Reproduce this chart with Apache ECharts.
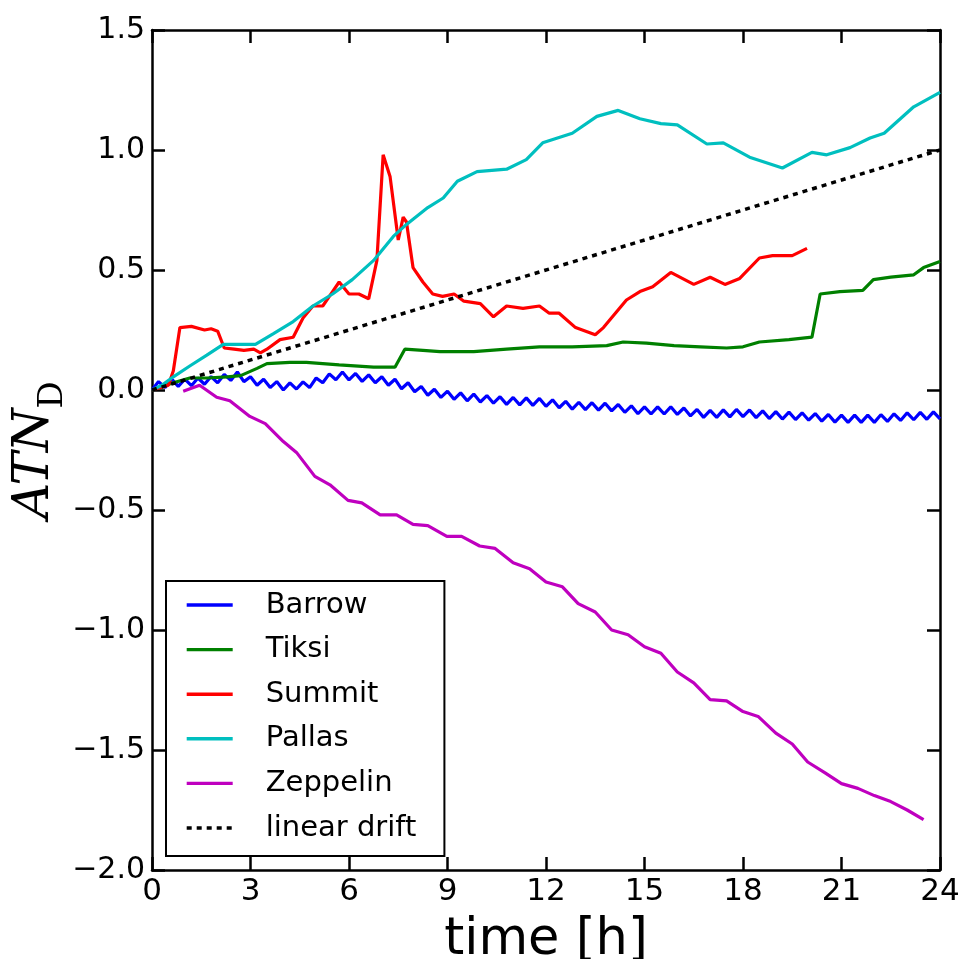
<!DOCTYPE html>
<html>
<head>
<meta charset="utf-8">
<script src="https://cdn.jsdelivr.net/npm/echarts@6/dist/echarts.min.js"></script>
<style>
html,body{margin:0;padding:0;background:#fff;}
#chart{width:963px;height:959px;}
</style>
</head>
<body>
<div id="chart"></div>
<script>
// ---- data (time [h], ATN_D) ----
const seriesNames = ['Barrow', 'Tiksi', 'Summit', 'Pallas', 'Zeppelin', 'linear drift'];
const xTicks = [0, 3, 6, 9, 12, 15, 18, 21, 24];
const yTicks = [-2.0, -1.5, -1.0, -0.5, 0.0, 0.5, 1.0, 1.5];

const barrow = [
[0,0],[0.2,0.035],[0.4,0.01],[0.6,0.045],[0.8,0.015],[1.0,0.045],[1.2,0.018],[1.4,0.05],[1.6,0.024],[1.8,0.056],
[2.0,0.03],[2.2,0.065],[2.4,0.04],[2.6,0.075],[2.8,0.035],[3.0,0.055],[3.2,0.02],[3.4,0.045],[3.6,0.01],[3.8,0.035],
[4.0,0.0],[4.2,0.03],[4.4,0.004],[4.6,0.034],[4.8,0.01],[5.0,0.05],[5.2,0.03],[5.4,0.067],[5.6,0.043],[5.8,0.075],
[6.0,0.042],[6.2,0.069],[6.4,0.036],[6.6,0.063],[6.8,0.03],[7.0,0.055],[7.2,0.02],[7.4,0.045],[7.6,0.005],[7.8,0.03],
[8.0,-0.007],[8.2,0.015],[8.4,-0.022],[8.6,0.003],[8.8,-0.031],[9.0,-0.005],[9.2,-0.039],[9.4,-0.012],[9.6,-0.045],[9.8,-0.017],
[10.0,-0.05],[10.2,-0.023],[10.4,-0.055],[10.6,-0.028],[10.8,-0.06],[11.0,-0.031],[11.2,-0.062],[11.4,-0.033],[11.6,-0.064],[11.8,-0.035],
[12.0,-0.068],[12.2,-0.041],[12.4,-0.074],[12.6,-0.047],[12.8,-0.08],[13.0,-0.051],[13.2,-0.082],[13.4,-0.053],[13.6,-0.084],[13.8,-0.055],
[14.0,-0.087],[14.2,-0.06],[14.4,-0.093],[14.6,-0.066],[14.8,-0.099],[15.0,-0.07],[15.2,-0.1],[15.4,-0.07],[15.6,-0.1],[15.8,-0.07],
[16.0,-0.102],[16.2,-0.075],[16.4,-0.108],[16.6,-0.081],[16.8,-0.114],[17.0,-0.085],[17.2,-0.114],[17.4,-0.083],[17.6,-0.112],[17.8,-0.081],
[18.0,-0.111],[18.2,-0.083],[18.4,-0.115],[18.6,-0.087],[18.8,-0.119],[19.0,-0.09],[19.2,-0.121],[19.4,-0.092],[19.6,-0.123],[19.8,-0.095],
[20.0,-0.126],[20.2,-0.098],[20.4,-0.13],[20.6,-0.102],[20.8,-0.134],[21.0,-0.105],[21.2,-0.135],[21.4,-0.105],[21.6,-0.135],[21.8,-0.105],
[22.0,-0.135],[22.2,-0.103],[22.4,-0.131],[22.6,-0.099],[22.8,-0.127],[23.0,-0.095],[23.2,-0.124],[23.4,-0.093],[23.6,-0.122],[23.8,-0.091],
[24.0,-0.12]
];

const tiksi = [
[0,0],[0.65,0.03],[1.15,0.05],[1.67,0.05],[2.3,0.055],[2.7,0.06],[3.2,0.09],[3.5,0.11],[4.2,0.115],[4.7,0.115],
[5.7,0.105],[6.75,0.095],[7.4,0.095],[7.7,0.17],[8.25,0.165],[8.77,0.16],[9.8,0.16],[10.8,0.17],[11.8,0.18],[12.8,0.18],
[13.85,0.185],[14.35,0.2],[15.06,0.195],[15.9,0.185],[16.7,0.18],[17.5,0.175],[18.0,0.18],[18.5,0.2],[19.4,0.21],[20.1,0.22],
[20.35,0.4],[20.95,0.41],[21.65,0.415],[21.97,0.46],[22.5,0.47],[23.2,0.48],[23.5,0.51],[24,0.535]
];

const summit = [
[0,0],[0.5,0.02],[0.65,0.08],[0.85,0.26],[1.2,0.265],[1.6,0.25],[1.8,0.255],[2.0,0.245],[2.2,0.175],[2.5,0.17],
[2.8,0.165],[3.1,0.17],[3.3,0.155],[3.5,0.17],[3.9,0.21],[4.3,0.22],[4.6,0.3],[4.9,0.35],[5.2,0.35],[5.5,0.41],
[5.7,0.45],[6.0,0.4],[6.3,0.4],[6.6,0.38],[6.85,0.54],[7.04,0.98],[7.25,0.89],[7.5,0.625],[7.65,0.72],[7.75,0.7],
[7.95,0.51],[8.25,0.45],[8.55,0.4],[8.85,0.39],[9.2,0.4],[9.5,0.37],[10.0,0.36],[10.4,0.305],[10.8,0.35],[11.3,0.34],
[11.8,0.35],[12.1,0.32],[12.4,0.32],[12.9,0.26],[13.5,0.23],[13.75,0.26],[14.45,0.375],[14.86,0.41],[15.25,0.43],[15.8,0.49],
[16.5,0.44],[17.0,0.47],[17.45,0.44],[17.9,0.465],[18.5,0.55],[18.9,0.56],[19.5,0.56],[19.95,0.59]
];

const pallas = [
[0,0],[0.3,0.02],[0.65,0.055],[1.15,0.1],[1.67,0.145],[2.17,0.19],[2.7,0.19],[3.15,0.19],[3.7,0.235],[4.3,0.285],
[4.9,0.35],[5.5,0.4],[6.1,0.46],[6.75,0.54],[7.35,0.64],[7.75,0.69],[8.4,0.76],[8.87,0.8],[9.3,0.87],[9.9,0.91],
[10.8,0.92],[11.4,0.96],[11.9,1.03],[12.8,1.07],[13.55,1.14],[14.2,1.165],[14.86,1.13],[15.5,1.11],[16.0,1.105],[16.9,1.025],
[17.4,1.03],[18.2,0.97],[19.2,0.925],[20.1,0.99],[20.55,0.98],[21.26,1.01],[21.87,1.05],[22.3,1.07],[23.2,1.18],[24,1.24]
];

const zeppelin = [
[0.95,-0.005],[1.45,0.02],[1.97,-0.03],[2.37,-0.045],[2.98,-0.11],[3.45,-0.14],[4.0,-0.215],[4.4,-0.26],[4.96,-0.36],[5.42,-0.395],
[5.97,-0.46],[6.39,-0.47],[6.95,-0.52],[7.45,-0.52],[7.95,-0.56],[8.4,-0.565],[8.98,-0.61],[9.43,-0.61],[9.98,-0.65],[10.45,-0.66],
[11.0,-0.72],[11.5,-0.745],[12.0,-0.8],[12.5,-0.82],[12.98,-0.89],[13.5,-0.925],[14.0,-1.0],[14.5,-1.02],[15.0,-1.07],[15.5,-1.097],
[16.0,-1.175],[16.5,-1.22],[17.0,-1.29],[17.5,-1.295],[18.0,-1.34],[18.46,-1.36],[19.0,-1.43],[19.5,-1.475],[19.97,-1.55],[20.5,-1.595],
[21.0,-1.64],[21.5,-1.66],[22.0,-1.69],[22.5,-1.715],[23.0,-1.75],[23.5,-1.79]
];

const drift = [[0,0],[24,1.0]];

const colors = ['#0000ff', '#008000', '#ff0000', '#00bfbf', '#bf00bf', '#000000'];

// ---- chart ----
const chart = echarts.init(document.getElementById('chart'), null, {renderer: 'canvas'});
const FONT = 'DejaVu Sans';
const fmtY = v => (v < 0 ? '\u2212' : '') + Math.abs(v).toFixed(1);

const frameLine = {show: true, onZero: false, lineStyle: {color: '#000', width: 2.5}};
const tickIn = {show: true, inside: true, length: 13, lineStyle: {color: '#000', width: 2.5}};

function lineSeries(name, data, color, extra) {
  return Object.assign({
    name: name, type: 'line', data: data, symbol: 'none', smooth: false,
    lineStyle: {color: color, width: 3.2}, itemStyle: {color: color},
    emphasis: {disabled: true}, animation: false
  }, extra || {});
}

chart.setOption({
  animation: false,
  backgroundColor: '#fff',
  grid: {left: 152, right: 23, top: 30, bottom: 89, containLabel: false, outerBoundsMode: 'none'},
  xAxis: [
    {type: 'value', position: 'bottom', min: 0, max: 24, interval: 3,
     axisLine: frameLine, axisTick: tickIn, splitLine: {show: false},
     axisLabel: {color: '#000', fontFamily: FONT, fontSize: 31, margin: 6},
     name: 'time [h]', nameLocation: 'middle', nameGap: 45, nameMoveOverlap: false,
     nameTextStyle: {color: '#000', fontFamily: FONT, fontSize: 51}},
    {type: 'value', position: 'top', min: 0, max: 24, interval: 3,
     axisLine: frameLine, axisTick: tickIn, splitLine: {show: false},
     axisLabel: {show: false}}
  ],
  yAxis: [
    {type: 'value', position: 'left', min: -2.0, max: 1.5, interval: 0.5,
     axisLine: frameLine, axisTick: tickIn, splitLine: {show: false},
     axisLabel: {color: '#000', fontFamily: FONT, fontSize: 30, margin: 7, formatter: fmtY},
     name: '{a|ATN}{b|D}', nameLocation: 'middle', nameGap: 82, nameRotate: 90, nameMoveOverlap: false,
     nameTextStyle: {
       lineHeight: 56,
       rich: {
         a: {fontFamily: 'DejaVu Serif', fontStyle: 'italic', fontSize: 50, lineHeight: 56, color: '#000', verticalAlign: 'bottom', padding: [0, 0, 10, 0]},
         b: {fontFamily: 'DejaVu Serif', fontSize: 34, lineHeight: 40, color: '#000', verticalAlign: 'bottom'}
       }
     }},
    {type: 'value', position: 'right', min: -2.0, max: 1.5, interval: 0.5,
     axisLine: frameLine, axisTick: tickIn, splitLine: {show: false},
     axisLabel: {show: false}}
  ],
  legend: {
    orient: 'vertical', left: 166, top: 581,
    data: seriesNames,
    backgroundColor: '#fff', borderColor: '#000', borderWidth: 2, borderRadius: 0,
    padding: [9, 28, 13, 19],
    itemWidth: 46, itemHeight: 14, itemGap: 14.6,
    itemStyle: {opacity: 0},
    lineStyle: {width: 3.4},
    textStyle: {color: '#000', fontFamily: FONT, fontSize: 29, lineHeight: 30, padding: [0, 0, 0, 28]},
    selectedMode: false
  },
  series: [
    lineSeries(seriesNames[0], barrow, colors[0]),
    lineSeries(seriesNames[1], tiksi, colors[1]),
    lineSeries(seriesNames[2], summit, colors[2]),
    lineSeries(seriesNames[3], pallas, colors[3]),
    lineSeries(seriesNames[4], zeppelin, colors[4]),
    lineSeries(seriesNames[5], drift, colors[5], {lineStyle: {color: '#000', width: 3.5, type: [5, 5]}})
  ]
});
</script>
</body>
</html>
